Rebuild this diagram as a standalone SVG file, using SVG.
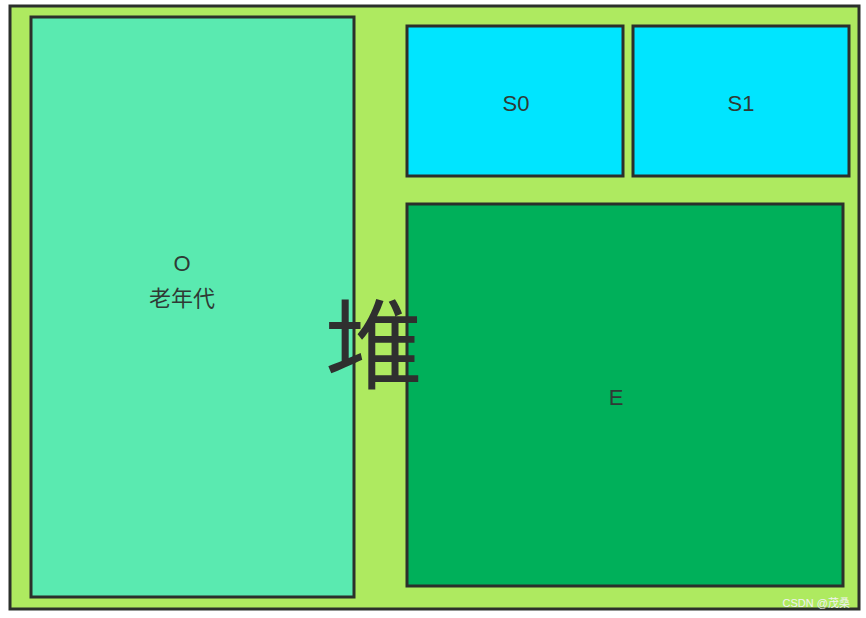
<svg xmlns="http://www.w3.org/2000/svg" width="866" height="618" viewBox="0 0 866 618">
<style>
.box{stroke:#2b2f2b;stroke-width:3}
.lbl{font-family:"Liberation Sans","Noto Sans CJK SC",sans-serif;font-size:22px;fill:#2f3a35;text-anchor:middle}
</style>
<rect x="0" y="0" width="866" height="618" fill="#ffffff"/>
<g id="heap">
<rect class="box" x="10" y="6" width="849" height="603" fill="#aeea60"/>
</g>
<g id="old">
<rect class="box" x="31" y="17" width="323" height="580" fill="#5aeab0"/>
<text class="lbl" x="182" y="271">O</text>
<text class="lbl" x="182" y="306" font-family="'Noto Sans CJK SC',sans-serif" font-size="23">老年代</text>
</g>
<g id="s0">
<rect class="box" x="407" y="26" width="216" height="150" fill="#00e5ff"/>
<text class="lbl" x="516" y="111">S0</text>
</g>
<g id="s1">
<rect class="box" x="633" y="26" width="216" height="150" fill="#00e5ff"/>
<text class="lbl" x="741" y="111">S1</text>
</g>
<g id="eden">
<rect class="box" x="407" y="204" width="436" height="382" fill="#00b05a"/>
<text class="lbl" x="616" y="405">E</text>
</g>
<g id="connectors"></g>
<text id="heap-label" x="374" y="381" font-family="'Noto Sans CJK SC',sans-serif" font-size="98" fill="#2f2f2f" text-anchor="middle">堆</text>
<text x="850" y="607" font-family="'Liberation Sans','Noto Sans CJK SC',sans-serif" font-size="11" fill="#f2f2f2" text-anchor="end">CSDN @茂桑</text>
</svg>
